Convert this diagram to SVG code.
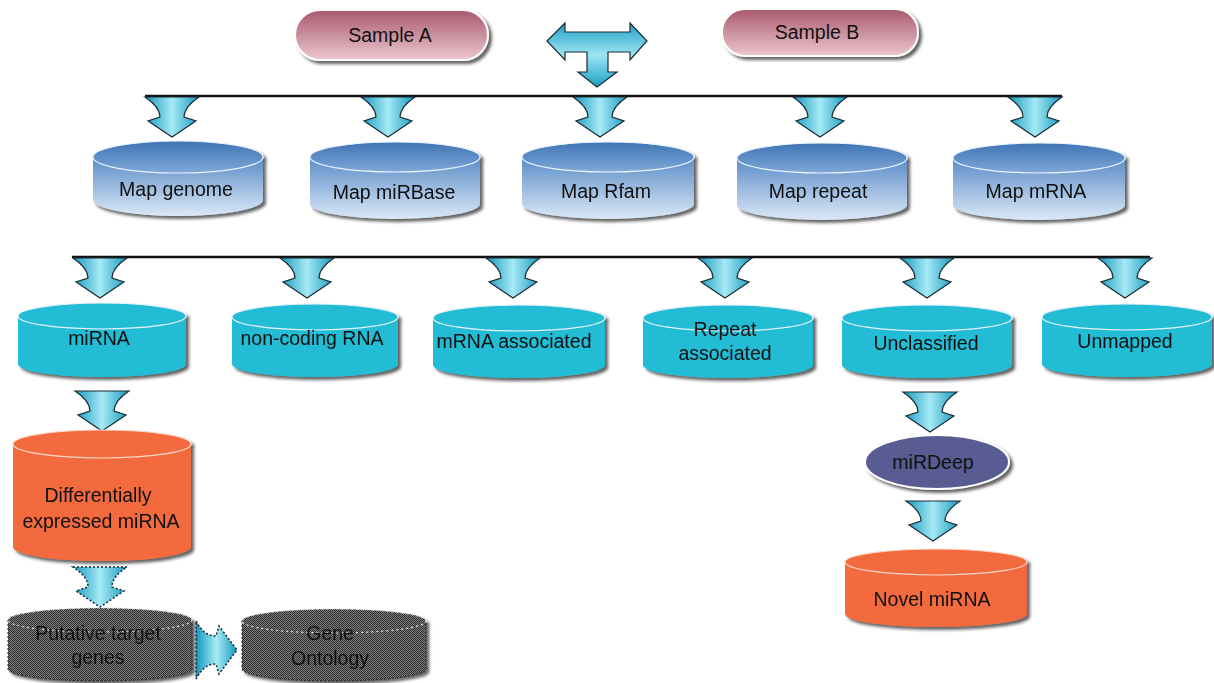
<svg xmlns="http://www.w3.org/2000/svg" width="1214" height="683" viewBox="0 0 1214 683">
<style>
text{font-family:"Liberation Sans",Arial,sans-serif;font-size:19.5px;fill:#111;text-anchor:middle}
.arr{fill:url(#cyanH);stroke:#1b2a33;stroke-width:1.2}
.darr{fill:url(#cyanH);stroke:#1b2a33;stroke-width:1.5;stroke-dasharray:2 2}
.line{stroke:#111;stroke-width:2.5}
.topl{stroke:#e8f2ff;stroke-width:1.2}
</style>
<defs>
<linearGradient id="cyanH" x1="0" y1="0" x2="1" y2="0">
<stop offset="0" stop-color="#1598bd"/><stop offset="0.5" stop-color="#a6eaf6"/><stop offset="1" stop-color="#1598bd"/>
</linearGradient>
<linearGradient id="cyanV" x1="0" y1="0" x2="0" y2="1">
<stop offset="0" stop-color="#1e9fc4"/><stop offset="0.5" stop-color="#9ce5f3"/><stop offset="1" stop-color="#1e9fc4"/>
</linearGradient>
<linearGradient id="blueBody" x1="0" y1="0" x2="0" y2="1">
<stop offset="0" stop-color="#5a8cc8"/><stop offset="1" stop-color="#dbe8f6"/>
</linearGradient>
<linearGradient id="blueTop" x1="0" y1="0" x2="0" y2="1">
<stop offset="0" stop-color="#3f74b4"/><stop offset="1" stop-color="#7fa8d8"/>
</linearGradient>
<linearGradient id="pink" x1="0" y1="0" x2="0" y2="1">
<stop offset="0" stop-color="#a8596d"/><stop offset="1" stop-color="#ecc7cf"/>
</linearGradient>
<pattern id="dither" width="2" height="2" patternUnits="userSpaceOnUse">
<rect width="2" height="2" fill="#7e7e7e"/><rect width="1" height="1" fill="#2e2e2e"/><rect x="1" y="1" width="1" height="1" fill="#2e2e2e"/>
</pattern>
<filter id="sh" x="-10%" y="-10%" width="125%" height="135%">
<feDropShadow dx="3" dy="3" stdDeviation="1.5" flood-color="#222" flood-opacity="0.7"/>
</filter>
<path id="da" d="M-27,0 H27 C18,6 12,12 12,20 L24,24 L0,40 L-24,24 L-12,20 C-12,12 -18,6 -27,0 Z"/>
</defs>
<rect width="1214" height="683" fill="#fff"/>

<g id="sampleA">
<rect x="295" y="10" width="193" height="50" rx="25" fill="url(#pink)" stroke="#fff" stroke-width="2" filter="url(#sh)"/>
<text x="390" y="42">Sample A</text>
</g>
<g id="sampleB">
<rect x="722" y="9" width="196" height="47" rx="23" fill="url(#pink)" stroke="#fff" stroke-width="2" filter="url(#sh)"/>
<text x="817" y="39">Sample B</text>
</g>

<g id="connectors">
<path d="M547,41 L565,23 L565,32 L630,32 L630,23 L647,41 L630,60 L630,52 L608,52 L608,72 L617,72 L597,87 L578,72 L587,72 L587,52 L565,52 L565,60 Z" fill="url(#cyanV)" stroke="#1b2a33" stroke-width="1.2"/>
<line class="line" x1="145" y1="96" x2="1062" y2="96"/>
<line class="line" x1="72" y1="257" x2="1150" y2="257"/>
<use href="#da" class="arr" x="172" y="97"/>
<use href="#da" class="arr" x="388" y="97"/>
<use href="#da" class="arr" x="600" y="97"/>
<use href="#da" class="arr" x="820" y="97"/>
<use href="#da" class="arr" x="1035" y="97"/>
<use href="#da" class="arr" x="100" y="258"/>
<use href="#da" class="arr" x="307" y="258"/>
<use href="#da" class="arr" x="513" y="258"/>
<use href="#da" class="arr" x="725" y="258"/>
<use href="#da" class="arr" x="927" y="258"/>
<use href="#da" class="arr" x="1125" y="258"/>
<use href="#da" class="arr" x="102" y="391"/>
<use href="#da" class="arr" x="930" y="392"/>
<use href="#da" class="arr" x="933" y="501"/>
<use href="#da" class="darr" x="100" y="567"/>
<path d="M196,621 C202,632 208,636 216,636 L219,626 L237,650 L219,674 L216,664 C208,664 202,668 196,679 Z" class="darr"/>
</g>

<g id="mapGenome" filter="url(#sh)">
<path d="M93,157 V200 A85,16 0 0 0 263,200 V157 Z" fill="url(#blueBody)"/>
<ellipse cx="178" cy="157" rx="85" ry="16" fill="url(#blueTop)" class="topl"/>
<text x="176" y="196">Map genome</text>
</g>
<g id="mapMiRBase" filter="url(#sh)">
<path d="M310,157 V204 A85,15 0 0 0 480,204 V157 Z" fill="url(#blueBody)"/>
<ellipse cx="395" cy="157" rx="85" ry="15" fill="url(#blueTop)" class="topl"/>
<text x="394" y="199">Map miRBase</text>
</g>
<g id="mapRfam" filter="url(#sh)">
<path d="M522,157 V204 A86,15 0 0 0 694,204 V157 Z" fill="url(#blueBody)"/>
<ellipse cx="608" cy="157" rx="86" ry="15" fill="url(#blueTop)" class="topl"/>
<text x="606" y="198">Map Rfam</text>
</g>
<g id="mapRepeat" filter="url(#sh)">
<path d="M737,158 V205 A85,15 0 0 0 907,205 V158 Z" fill="url(#blueBody)"/>
<ellipse cx="822" cy="158" rx="85" ry="15" fill="url(#blueTop)" class="topl"/>
<text x="818" y="198">Map repeat</text>
</g>
<g id="mapMRNA" filter="url(#sh)">
<path d="M953,158 V205 A86,15 0 0 0 1125,205 V158 Z" fill="url(#blueBody)"/>
<ellipse cx="1039" cy="158" rx="86" ry="15" fill="url(#blueTop)" class="topl"/>
<text x="1036" y="198">Map mRNA</text>
</g>

<g id="miRNA" filter="url(#sh)">
<path d="M18,316 V364 A84,13 0 0 0 186,364 V316 Z" fill="#20bcd5"/>
<ellipse cx="102" cy="316" rx="84" ry="13" fill="#20bcd5" class="topl"/>
<text x="99" y="345">miRNA</text>
</g>
<g id="ncRNA" filter="url(#sh)">
<path d="M232,317 V364 A83,13 0 0 0 398,364 V317 Z" fill="#20bcd5"/>
<ellipse cx="315" cy="317" rx="83" ry="13" fill="#20bcd5" class="topl"/>
<text x="312" y="345">non-coding RNA</text>
</g>
<g id="mRNAassoc" filter="url(#sh)">
<path d="M433,318 V365 A86,13 0 0 0 605,365 V318 Z" fill="#20bcd5"/>
<ellipse cx="519" cy="318" rx="86" ry="13" fill="#20bcd5" class="topl"/>
<text x="514" y="348">mRNA associated</text>
</g>
<g id="repeatAssoc" filter="url(#sh)">
<path d="M643,318 V365 A85,13 0 0 0 813,365 V318 Z" fill="#20bcd5"/>
<ellipse cx="728" cy="318" rx="85" ry="13" fill="#20bcd5" class="topl"/>
<text x="725" y="336">Repeat</text>
<text x="725" y="360">associated</text>
</g>
<g id="unclassified" filter="url(#sh)">
<path d="M842,318 V365 A85,13 0 0 0 1012,365 V318 Z" fill="#20bcd5"/>
<ellipse cx="927" cy="318" rx="85" ry="13" fill="#20bcd5" class="topl"/>
<text x="926" y="350">Unclassified</text>
</g>
<g id="unmapped" filter="url(#sh)">
<path d="M1042,317 V364 A85,13 0 0 0 1212,364 V317 Z" fill="#20bcd5"/>
<ellipse cx="1127" cy="317" rx="85" ry="13" fill="#20bcd5" class="topl"/>
<text x="1125" y="348">Unmapped</text>
</g>

<g id="diffExpr" filter="url(#sh)">
<path d="M13,444 V547 A89,14 0 0 0 191,547 V444 Z" fill="#f26a3c"/>
<ellipse cx="102" cy="444" rx="89" ry="14" fill="#f26a3c" stroke="#ffd9c8" stroke-width="1.2"/>
<text x="98" y="502">Differentially</text>
<text x="101" y="528">expressed miRNA</text>
</g>

<g id="putative" filter="url(#sh)">
<path d="M8,620 V669 A92,12 0 0 0 192,669 V620 Z" fill="url(#dither)" stroke="#222" stroke-dasharray="2 2"/>
<ellipse cx="100" cy="620" rx="92" ry="12" fill="url(#dither)" stroke="#ddd" stroke-width="1.2" stroke-dasharray="2 3"/>
<text x="98" y="640">Putative target</text>
<text x="98" y="664">genes</text>
</g>
<g id="geneOntology" filter="url(#sh)">
<path d="M242,621 V669 A92,12 0 0 0 426,669 V621 Z" fill="url(#dither)" stroke="#222" stroke-dasharray="2 2"/>
<ellipse cx="334" cy="621" rx="92" ry="12" fill="url(#dither)" stroke="#ddd" stroke-width="1.2" stroke-dasharray="2 3"/>
<text x="330" y="640">Gene</text>
<text x="330" y="665">Ontology</text>
</g>

<g id="miRDeep">
<ellipse cx="937" cy="462" rx="72" ry="27" fill="#585c92" stroke="#fff" stroke-width="2" filter="url(#sh)"/>
<text x="933" y="469">miRDeep</text>
</g>

<g id="novel" filter="url(#sh)">
<path d="M845,562 V614 A91,13 0 0 0 1027,614 V562 Z" fill="#f26a3c"/>
<ellipse cx="936" cy="562" rx="91" ry="13" fill="#f26a3c" stroke="#ffd9c8" stroke-width="1.2"/>
<text x="932" y="606">Novel miRNA</text>
</g>
</svg>
